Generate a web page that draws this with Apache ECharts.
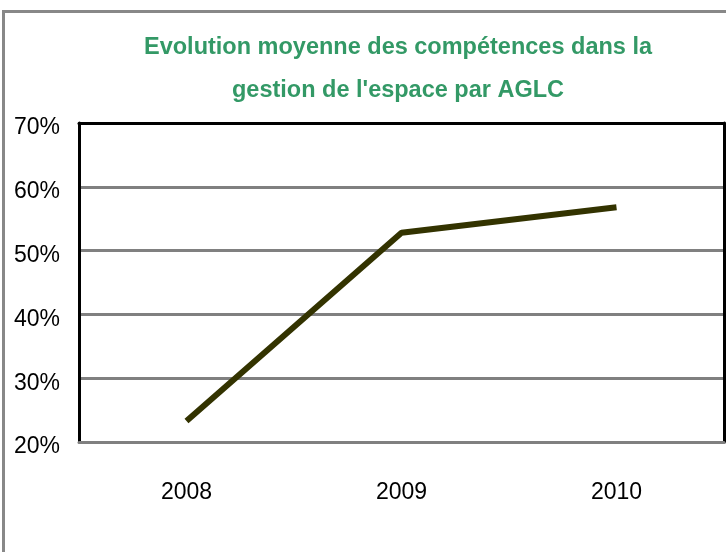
<!DOCTYPE html>
<html>
<head>
<meta charset="utf-8">
<script src="https://cdn.jsdelivr.net/npm/echarts@6/dist/echarts.min.js"></script>
<style>
  html, body { margin: 0; padding: 0; background: #fff; }
  #chart { width: 726px; height: 552px; }
</style>
</head>
<body>
<div id="chart"></div>
<script>
const titleLines = ['Evolution moyenne des compétences dans la', "gestion de l'espace par AGLC"]
const years = ['2008', '2009', '2010']
const competences = [23.3, 52.8, 56.8]
const yMin = 20
const yMax = 70
const yStep = 10

const labelFont = '"Liberation Sans", sans-serif'

const chart = echarts.init(document.getElementById('chart'))
chart.setOption({
  animation: false,
  title: {
    text: titleLines.join('\n'),
    left: 393,
    textAlign: 'center',
    top: 21,
    textStyle: {
      fontFamily: labelFont,
      fontSize: 23.5,
      fontWeight: 'bold',
      color: '#339966',
      lineHeight: 43
    }
  },
  graphic: [{
    type: 'rect',
    shape: { x: 3.5, y: 11.5, width: 800, height: 600 },
    style: { fill: 'none', stroke: '#888', lineWidth: 3 },
    silent: true
  }],
  grid: {
    left: 79,
    top: 123,
    width: 645,
    height: 319
  },
  xAxis: [{
    type: 'category',
    data: years,
    boundaryGap: true,
    axisLine: { lineStyle: { color: '#808080', width: 3 } },
    axisTick: { show: false },
    axisLabel: {
      margin: 39,
      fontFamily: labelFont,
      fontSize: 23,
      color: '#000'
    },
    z: 5
  }, {
    type: 'category',
    data: years,
    position: 'top',
    axisLine: { lineStyle: { color: '#000', width: 3 } },
    axisTick: { show: false },
    axisLabel: { show: false }
  }],
  yAxis: [{
    type: 'value',
    min: yMin,
    max: yMax,
    interval: yStep,
    axisLine: { show: true, lineStyle: { color: '#000', width: 3 } },
    axisTick: { show: false },
    axisLabel: {
      margin: 19,
      verticalAlign: 'top',
      lineHeight: 10,
      fontFamily: labelFont,
      fontSize: 23,
      color: '#000',
      formatter: v => v + '%'
    },
    splitLine: {
      showMinLine: false,
      showMaxLine: false,
      lineStyle: { color: '#808080', width: 3 }
    }
  }, {
    type: 'value',
    position: 'right',
    min: yMin,
    max: yMax,
    interval: yStep,
    axisLine: { show: true, lineStyle: { color: '#000', width: 3 } },
    axisTick: { show: false },
    axisLabel: { show: false },
    splitLine: { show: false }
  }],
  series: [{
    type: 'line',
    data: competences,
    symbol: 'none',
    lineStyle: { color: '#333300', width: 6, cap: 'butt' }
  }]
})
</script>
</body>
</html>
